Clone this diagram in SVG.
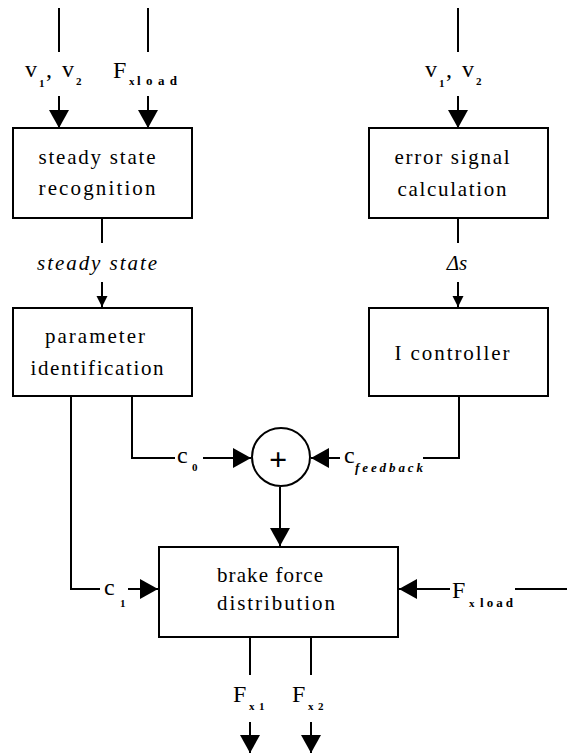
<svg xmlns="http://www.w3.org/2000/svg" width="567" height="753" viewBox="0 0 567 753">
<style>
.box{fill:#fff;stroke:#000;stroke-width:2}
.ln{fill:none;stroke:#000;stroke-width:2}
text{font-family:"Liberation Serif","DejaVu Serif",serif;fill:#000}
.t{font-size:21px;text-anchor:middle}
.i{font-style:italic}
.b{font-size:24px}
.s{font-size:11px;font-weight:bold}
.w{font-size:13px}
</style>
<defs>
<marker id="ab" markerUnits="userSpaceOnUse" markerWidth="20" markerHeight="20" viewBox="0 0 20 20" refX="18" refY="10" orient="auto"><path d="M0,0 L18,10 L0,20 Z" fill="#000"/></marker>
<marker id="as" markerUnits="userSpaceOnUse" markerWidth="12" markerHeight="12" viewBox="0 0 12 12" refX="11" refY="6" orient="auto"><path d="M0,0.5 L11,6 L0,11.5 Z" fill="#000"/></marker>
</defs>
<g id="connectors">
<line class="ln" x1="59" y1="8" x2="59" y2="52"/>
<line class="ln" x1="59" y1="96" x2="59" y2="128" marker-end="url(#ab)"/>
<line class="ln" x1="148" y1="8" x2="148" y2="52"/>
<line class="ln" x1="148" y1="96" x2="148" y2="128" marker-end="url(#ab)"/>
<line class="ln" x1="458" y1="8" x2="458" y2="52"/>
<line class="ln" x1="458" y1="96" x2="458" y2="128" marker-end="url(#ab)"/>
<line class="ln" x1="102" y1="218" x2="102" y2="243"/>
<line class="ln" x1="102" y1="282" x2="102" y2="307" marker-end="url(#as)"/>
<line class="ln" x1="458" y1="218" x2="458" y2="243"/>
<line class="ln" x1="458" y1="282" x2="458" y2="307" marker-end="url(#as)"/>
<polyline class="ln" points="132,396 132,458 175,458"/>
<line class="ln" x1="203" y1="458" x2="251" y2="458" marker-end="url(#ab)"/>
<polyline class="ln" points="459,396 459,458 423,458"/>
<line class="ln" x1="340" y1="458" x2="311" y2="458" marker-end="url(#ab)"/>
<line class="ln" x1="280" y1="487" x2="280" y2="546" marker-end="url(#ab)"/>
<polyline class="ln" points="71,396 71,589 100,589"/>
<line class="ln" x1="128" y1="589" x2="158" y2="589" marker-end="url(#ab)"/>
<line class="ln" x1="567" y1="589" x2="515" y2="589"/>
<line class="ln" x1="450" y1="589" x2="399" y2="589" marker-end="url(#ab)"/>
<line class="ln" x1="250" y1="637" x2="250" y2="675"/>
<line class="ln" x1="250" y1="722" x2="250" y2="753" marker-end="url(#ab)"/>
<line class="ln" x1="311" y1="637" x2="311" y2="675"/>
<line class="ln" x1="311" y1="722" x2="311" y2="753" marker-end="url(#ab)"/>
</g>
<g id="labels">
<text class="b" x="25" y="77">v<tspan class="s" x="39" y="87">1</tspan><tspan x="46" y="77">,</tspan><tspan x="62" y="77">v</tspan><tspan class="s" x="76" y="85">2</tspan></text>
<text class="b" x="113" y="78">F<tspan class="s" x="129" y="85">x</tspan><tspan class="s w" x="137" y="85" textLength="40" lengthAdjust="spacing">load</tspan></text>
<text class="b" x="425" y="77">v<tspan class="s" x="439" y="87">1</tspan><tspan x="446" y="77">,</tspan><tspan x="462" y="77">v</tspan><tspan class="s" x="476" y="85">2</tspan></text>
<text class="t i" x="97" y="270" textLength="120" lengthAdjust="spacing">steady state</text>
<text class="t i" x="457" y="270">Δs</text>
<text class="b" x="177" y="463">c<tspan class="s" x="192" y="471">0</tspan></text>
<text class="b" x="344" y="463">c<tspan class="s i w" x="355" y="472" textLength="68" lengthAdjust="spacing">feedback</tspan></text>
<text class="b" x="104" y="595">c<tspan class="s" x="120" y="607">1</tspan></text>
<text class="b" x="452" y="598">F<tspan class="s" x="469" y="607">x</tspan><tspan class="s w" x="480" y="607" textLength="33" lengthAdjust="spacing">load</tspan></text>
<text class="b" x="233" y="702">F<tspan class="s" x="249" y="710">x</tspan><tspan class="s" x="259" y="710">1</tspan></text>
<text class="b" x="292" y="702">F<tspan class="s" x="308" y="710">x</tspan><tspan class="s" x="318" y="710">2</tspan></text>
</g>
<g id="steady-state-recognition">
<rect class="box" x="13" y="128" width="179" height="90"/>
<text class="t" x="97" y="164" textLength="117" lengthAdjust="spacing">steady state</text>
<text class="t" x="97" y="195" textLength="117" lengthAdjust="spacing">recognition</text>
</g>
<g id="error-signal-calculation">
<rect class="box" x="369" y="128" width="179" height="90"/>
<text class="t" x="452" y="164" textLength="115" lengthAdjust="spacing">error signal</text>
<text class="t" x="452" y="196" textLength="109" lengthAdjust="spacing">calculation</text>
</g>
<g id="parameter-identification">
<rect class="box" x="13" y="308" width="179" height="88"/>
<text class="t" x="95" y="343" textLength="100" lengthAdjust="spacing">parameter</text>
<text class="t" x="97" y="375" textLength="133" lengthAdjust="spacing">identification</text>
</g>
<g id="i-controller">
<rect class="box" x="369" y="308" width="179" height="88"/>
<text class="t" x="452" y="360" textLength="115" lengthAdjust="spacing">I controller</text>
</g>
<g id="sum">
<circle class="box" cx="281" cy="457" r="29"/>
<text x="278" y="470" style="font-size:32px;font-weight:bold;text-anchor:middle">+</text>
</g>
<g id="brake-force-distribution">
<rect class="box" x="159" y="547" width="239" height="90"/>
<text class="t" x="270" y="582" textLength="106" lengthAdjust="spacing">brake force</text>
<text class="t" x="276" y="610" textLength="118" lengthAdjust="spacing">distribution</text>
</g>
</svg>
